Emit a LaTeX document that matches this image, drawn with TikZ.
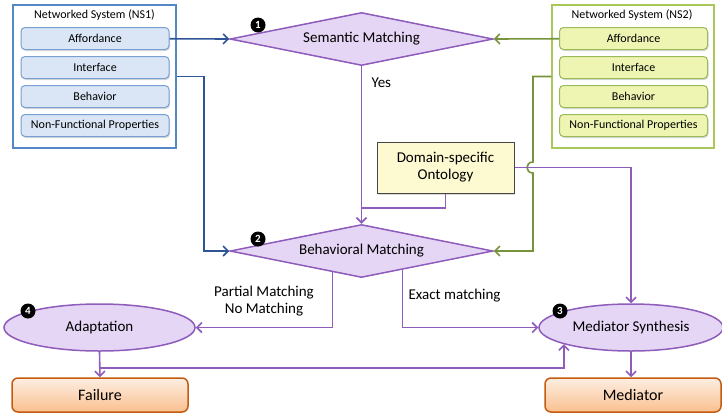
\documentclass[tikz,border=0pt]{standalone}
\usepackage{fontspec}
\setmainfont{Carlito}
\usetikzlibrary{shapes.geometric,arrows.meta,calc,shadows}
\definecolor{mvline}{RGB}{142,92,186}
\definecolor{mvfill}{RGB}{230,214,245}
\definecolor{nsoneline}{RGB}{84,135,197}
\definecolor{nsonepart}{RGB}{120,160,210}
\definecolor{nsonefill}{RGB}{218,230,246}
\definecolor{nsonearrow}{RGB}{47,85,151}
\definecolor{nstwoline}{RGB}{170,200,90}
\definecolor{nstwopart}{RGB}{155,187,89}
\definecolor{nstwofill}{RGB}{238,245,178}
\definecolor{nstwoarrow}{RGB}{119,147,60}
\definecolor{ontofill}{RGB}{253,249,208}
\definecolor{ontoline}{RGB}{70,70,70}
\definecolor{ortop}{RGB}{253,238,226}
\definecolor{orbot}{RGB}{250,192,143}
\definecolor{orline}{RGB}{197,90,17}

\begin{document}
\begin{tikzpicture}[x=1pt,y=-1pt
	,every node/.style={font=\fontsize{15}{17}\selectfont}
	,sysbox/.style={rectangle, draw, line width=1.5pt, minimum height=143pt}
	,part/.style={rectangle, rounded corners=4pt, draw, line width=1pt, minimum width=148pt, minimum height=22pt, inner sep=0pt, font=\fontsize{12}{14}\selectfont, drop shadow={opacity=0.3, shadow xshift=1pt, shadow yshift=-1.5pt}}
	,check/.style={diamond, aspect=5, draw=mvline, fill=mvfill, line width=1.5pt, minimum width=263pt, minimum height=53pt, inner sep=0pt}
	,task/.style={ellipse, draw=mvline, fill=mvfill, line width=1.5pt, minimum height=47pt, inner sep=0pt}
	,result/.style={rectangle, rounded corners=6pt, draw=orline, line width=1.5pt, top color=ortop, bottom color=orbot, minimum width=176pt, minimum height=34pt, font=\fontsize{16}{18}\selectfont}
	,badge/.style={circle, fill=black, text=white, inner sep=0pt, minimum size=15pt, font=\fontsize{11}{11}\selectfont\bfseries}
	,flow/.style={line width=1.6pt, -{Straight Barb[length=5pt,width=10pt]}}
]
\useasboundingbox (0,0) rectangle (722,413);

\node[sysbox, draw=nsoneline, minimum width=163pt](NS1) at(94.5,76.5) {};
\node[sysbox, draw=nstwoline, minimum width=162pt](NS2) at(633,76.5) {};
\node[font=\fontsize{12}{14}\selectfont](NS1title) at(94.5,15) {Networked System (NS1)};
\node[font=\fontsize{12}{14}\selectfont](NS2title) at(632,15) {Networked System (NS2)};

\foreach \y \n \t in {
	38.5/Aff/Affordance%
	,67.5/Int/Interface%
	,96.5/Beh/Behavior%
	,125.5/NFP/Non-Functional Properties%
}{
	\node[part, draw=nsonepart, fill=nsonefill](NS1\n) at(95,\y) {\t};
	\node[part, draw=nstwopart, fill=nstwofill](NS2\n) at(633.5,\y) {\t};
}

\node[check](sem) at(361.5,39) {Semantic Matching};
\node[check](beh) at(361.5,251) {Behavioral Matching};
\node[rectangle, draw=ontoline, fill=ontofill, line width=1pt, minimum width=137pt, minimum height=51pt, align=center, inner sep=0pt, drop shadow={opacity=0.3, shadow xshift=1pt, shadow yshift=-1.5pt}](onto) at(445.5,167.5) {Domain-specific\\Ontology};
\node[task, minimum width=191pt](adapt) at(99.5,327.5) {Adaptation};
\node[task, minimum width=184pt](synth) at(631,327.5) {Mediator Synthesis};
\node[result](fail) at(100,395) {Failure};
\node[result](med) at(633,395) {Mediator};

\foreach \x \y \t in {
	258/25/1%
	,258/239/2%
	,560/311/3%
	,28/311/4%
}{
	\node[badge](badge\t) at(\x,\y) {\t};
}

\node[anchor=west](yes) at(368,83) {Yes};
\node[align=center](partial) at(264,301) {Partial Matching\\No Matching};
\node[anchor=west](exact) at(405,296) {Exact matching};

\coordinate(join) at(361.5,208);
\coordinate(hopT) at(533,162);
\coordinate(hopB) at(533,173);
\coordinate(split) at(99.5,368);

\draw[flow, draw=nsonearrow] (NS1Aff) -- (sem.west);
\draw[flow, draw=nsonearrow] (NS1.east) -- ++(27,0) |- (beh.west);
\draw[flow, draw=nstwoarrow] (NS2Aff) -- (sem.east);
\draw[flow, draw=nstwoarrow] (NS2.west) -| (hopT) .. controls +(-8,0) and +(-8,0) .. (hopB) |- (beh.east);

\draw[flow, draw=mvline] (sem.south) -- (beh.north);
\draw[line width=1.6pt, draw=mvline] (onto.south) |- (join);
\draw[flow, draw=mvline] (onto.east) -| (synth.north);
\draw[flow, draw=mvline] ($(beh.south)!0.22!(beh.west)$) |- (adapt.east);
\draw[flow, draw=mvline] ($(beh.south)!0.31!(beh.east)$) |- (synth.west);
\draw[flow, draw=mvline] (adapt.south) -- (fail.north);
\draw[flow, draw=mvline] (split) -| (synth.194);
\draw[flow, draw=mvline] (synth.south) -- (synth.south |- med.north);
\end{tikzpicture}
\end{document}
